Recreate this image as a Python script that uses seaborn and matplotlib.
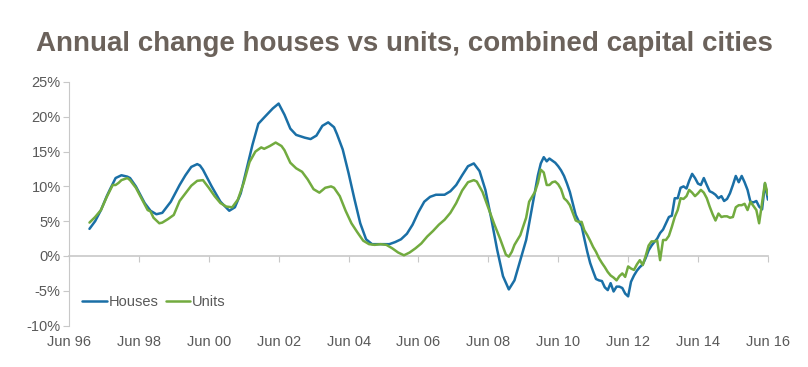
import pandas as pd
import seaborn as sns
import matplotlib.dates as mdates
from matplotlib import pyplot as plt

# months since Jun 1996, and annual % change
house_m = [7, 9, 11, 13, 14, 16, 18, 20, 21, 23,
           25, 26, 28, 30, 32, 35, 38, 40, 42, 44,
           45, 46, 49, 52, 55, 57, 59, 61, 63, 65,
           67, 70, 72, 74, 76, 78, 81, 83, 85, 87,
           89, 91, 92, 94, 96, 98, 100, 102, 104, 107,
           110, 112, 114, 116, 118, 120, 122, 124, 126, 129,
           131, 133, 135, 137, 139, 141, 143, 145, 147, 149,
           151, 153, 155, 157, 159, 161] + list(range(162, 241))
house_pct = [3.9, 5.0, 6.6, 8.6, 9.5, 11.2, 11.6, 11.4, 11.2, 10.0,
             8.4, 7.6, 6.5, 6.0, 6.2, 7.8, 10.2, 11.6, 12.8, 13.2,
             13.0, 12.4, 10.0, 7.8, 6.5, 7.0, 9.0, 12.5, 16.0, 19.0,
             19.9, 21.2, 21.9, 20.3, 18.3, 17.4, 17.0, 16.8, 17.3, 18.7,
             19.2, 18.5, 17.5, 15.3, 11.9, 8.2, 4.7, 2.4, 1.7, 1.7,
             1.7, 2.0, 2.4, 3.2, 4.5, 6.3, 7.8, 8.5, 8.8, 8.8,
             9.3, 10.2, 11.6, 12.9, 13.3, 12.2, 9.5, 5.4, 0.9, -2.9,
             -4.8, -3.5, -0.6, 2.3, 7.0, 11.6,
             13.3, 14.2, 13.6, 14.0, 13.7, 13.4, 12.9, 12.3, 11.5, 10.4,
             9.2, 7.5, 5.9, 5.0, 4.3, 2.5, 0.6, -1.0, -2.2, -3.3,
             -3.5, -3.6, -4.5, -4.9, -3.9, -5.1, -4.4, -4.4, -4.6, -5.4,
             -5.8, -3.7, -2.8, -2.1, -1.6, -1.2, -0.3, 0.8, 1.5, 2.0,
             2.5, 3.3, 3.8, 4.7, 5.6, 5.8, 8.3, 8.3, 9.8, 10.0,
             9.7, 10.8, 11.8, 11.2, 10.4, 10.2, 11.2, 10.2, 9.3, 9.1,
             8.8, 8.3, 8.6, 7.9, 8.2, 9.0, 10.2, 11.5, 10.6, 11.5,
             10.6, 9.5, 7.8, 7.7, 7.9, 7.1, 6.7, 10.4, 8.1]

unit_m = [7, 9, 11, 13, 15, 16, 17, 18, 20, 21,
          23, 25, 27, 28, 29, 31, 32, 34, 36, 38,
          40, 42, 44, 46, 48, 50, 52, 54, 56, 58,
          60, 62, 64, 66, 67, 69, 71, 73, 74, 76,
          78, 80, 82, 84, 86, 88, 90, 91, 93, 95,
          97, 99, 101, 103, 105, 107, 109, 111, 113, 115,
          117, 119, 121, 123, 125, 127, 129, 131, 133, 135,
          137, 139, 140, 142, 144, 146, 148, 150, 151, 152,
          153, 155, 157, 158, 160, 161] + list(range(162, 241))
unit_pct = [4.8, 5.6, 6.6, 8.5, 10.2, 10.2, 10.5, 10.9, 11.2, 10.9,
            9.8, 8.2, 6.6, 6.4, 5.5, 4.7, 4.8, 5.3, 5.9, 7.9,
            9.0, 10.1, 10.8, 10.9, 9.8, 8.6, 7.6, 7.1, 7.0, 8.1,
            10.5, 13.5, 15.0, 15.6, 15.4, 15.8, 16.3, 15.8, 15.2, 13.4,
            12.6, 12.1, 11.0, 9.6, 9.1, 9.8, 10.0, 9.8, 8.6, 6.5,
            4.7, 3.4, 2.2, 1.7, 1.6, 1.7, 1.6, 1.1, 0.5, 0.1,
            0.5, 1.1, 1.8, 2.8, 3.6, 4.5, 5.2, 6.2, 7.6, 9.4,
            10.6, 10.9, 10.7, 9.2, 6.9, 4.6, 2.5, 0.2, -0.1, 0.6,
            1.6, 3.0, 5.5, 7.8, 9.2, 10.5,
            12.4, 12.0, 10.2, 10.2, 10.6, 10.7, 10.3, 9.6, 8.3, 7.9,
            7.3, 6.2, 5.1, 4.9, 4.9, 3.7, 3.0, 2.2, 1.3, 0.6,
            -0.3, -1.0, -1.6, -2.3, -2.8, -3.1, -3.5, -2.9, -2.5, -3.0,
            -1.5, -1.8, -2.0, -1.2, -0.6, -1.3, 0.0, 1.5, 2.1, 2.1,
            2.2, -0.6, 2.3, 2.3, 2.9, 4.2, 5.6, 6.6, 8.3, 8.2,
            8.6, 9.5, 9.1, 8.6, 9.0, 9.5, 9.1, 8.3, 7.1, 6.0,
            5.1, 6.1, 5.6, 5.7, 5.7, 5.5, 5.6, 7.0, 7.3, 7.3,
            7.5, 6.6, 7.8, 7.2, 6.6, 4.7, 7.6, 10.5, 8.8]

tick_years = list(range(1996, 2017, 2))
y_ticks = [25, 20, 15, 10, 5, 0, -5, -10]

start = pd.Timestamp("1996-06-01")
df = pd.concat([
    pd.DataFrame({"date": [start + pd.DateOffset(months=m) for m in house_m],
                  "pct": house_pct, "series": "Houses"}),
    pd.DataFrame({"date": [start + pd.DateOffset(months=m) for m in unit_m],
                  "pct": unit_pct, "series": "Units"}),
])

sns.set_style("white")
plt.rcParams["font.family"] = ["Liberation Sans", "DejaVu Sans"]
grey = "#595959"
axis_grey = "#c8c8c8"

fig = plt.figure(figsize=(8.08, 3.67), dpi=100)
ax = fig.add_axes([0.0854, 0.1128, 0.865, 0.6638])

sns.lineplot(data=df, x="date", y="pct", hue="series",
             palette={"Houses": "#1a6fa6", "Units": "#72ab3f"},
             linewidth=1.8, ax=ax)

tick_dates = [pd.Timestamp(f"{y}-06-01") for y in tick_years]
ax.set_xlim(tick_dates[0], tick_dates[-1])
ax.set_ylim(-10, 25)
ax.set_xticks(tick_dates)
ax.xaxis.set_major_formatter(mdates.DateFormatter("Jun %y"))
ax.set_yticks(y_ticks)
ax.set_yticklabels([f"{v}%" for v in y_ticks])
ax.set_xlabel("")
ax.set_ylabel("")

for side in ["top", "right", "bottom"]:
    ax.spines[side].set_visible(False)
ax.spines["left"].set_color(axis_grey)
ax.tick_params(axis="y", length=4, color=axis_grey, labelcolor=grey,
               labelsize=10.5, pad=2, left=True)
ax.tick_params(axis="x", length=0, labelcolor=grey, labelsize=10.5, pad=7)

# zero line carries the tick marks
zero = ax.secondary_xaxis(10 / 35)
zero.set_xticks(tick_dates)
zero.tick_params(axis="x", length=4, color=axis_grey, labelbottom=False)
zero.spines["bottom"].set_color(axis_grey)
zero.spines["bottom"].set_linewidth(1.2)

ax.legend(loc="center left", bbox_to_anchor=(0.0, 0.095), ncol=2,
          frameon=False, fontsize=10.5, handlelength=1.7,
          handletextpad=0.1, columnspacing=0.5, labelcolor=grey)

fig.text(0.5, 0.88, "Annual change houses vs units, combined capital cities",
         ha="center", va="center", fontsize=20, fontweight="bold",
         color="#6b625b")

fig.savefig("out.png", dpi=100)
